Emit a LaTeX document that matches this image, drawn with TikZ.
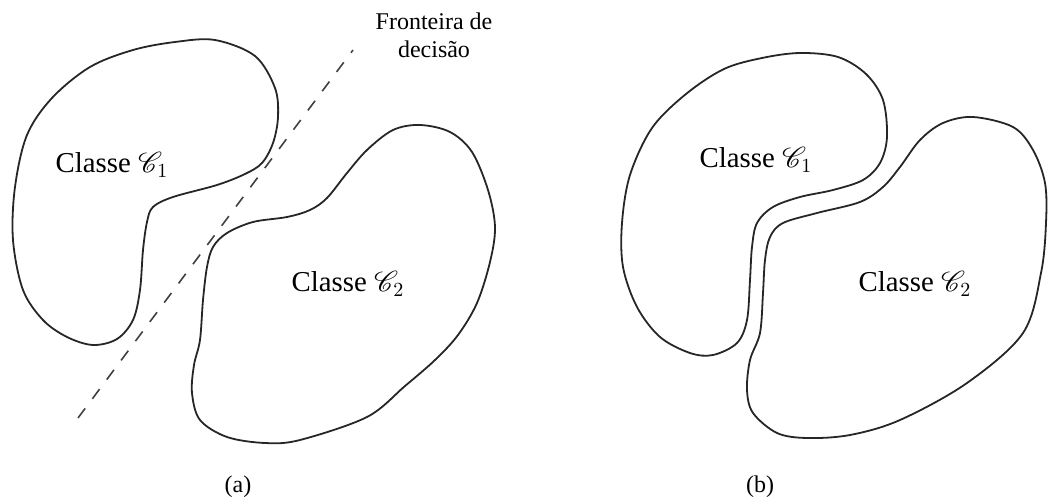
\documentclass[tikz,border=0pt]{standalone}
\usepackage{fontspec}
\setmainfont{Liberation Serif}
\usepackage{mathrsfs}
\usepackage{tikz}
\usetikzlibrary{positioning}

\begin{document}
\begin{tikzpicture}[x=0.5pt,y=-0.5pt,
  blob/.style={line width=0.9pt,color=black!85},
  classlabel/.style={font=\Large,inner sep=0pt},
  caption/.style={font=\large,inner sep=0pt}]
  \useasboundingbox (0,0) rectangle (1049,502);
  % (a)
  \draw[blob] plot[smooth cycle,tension=0.55] coordinates {(175,42) (215,40) (255,56) (275,88) (278,117) (273,143) (262,163) (245,174) (217,185) (173,197) (153,207) (147,222) (143,250) (140,290) (133,320) (117,339) (93,345) (67,337) (43,320) (23,290) (13,240) (15,187) (27,135) (52,98) (90,67) (133,50)};
  \draw[blob] plot[smooth cycle,tension=0.55] coordinates {(420,125) (450,132) (472,152) (488,190) (495,227) (490,262) (477,303) (458,335) (435,360) (405,386) (367,417) (300,440) (265,443) (227,437) (200,420) (192,393) (194,365) (200,340) (203,300) (207,267) (213,247) (227,233) (253,222) (287,217) (310,210) (327,198) (347,173) (367,150) (393,130)};
  \coordinate (lowend) at (78,418);
  \coordinate (highend) at (353,50);
  \draw[line width=0.8pt,color=black!75,dash pattern=on 6pt off 6pt] (lowend) -- (highend);
  \node[font=\large,align=center,inner sep=0pt] (fronteira) at (434,35) {Fronteira de\\decis\~ao};
  \node[classlabel] (classA1) at (112,165) {Classe $\mathscr{C}_1$};
  \node[classlabel] (classA2) at (348,284) {Classe $\mathscr{C}_2$};
  \node[caption] (capa) at (238,487) {(a)};
  % (b)
  \draw[blob] plot[smooth cycle,tension=0.55] coordinates {(762,58) (800,53) (838,57) (866,74) (883,100) (887,137) (880,163) (863,180) (833,190) (800,197) (773,207) (757,223) (752,247) (750,280) (747,320) (737,343) (713,355) (690,353) (660,337) (637,307) (623,267) (622,223) (630,175) (652,128) (686,94) (724,69)};
  \draw[blob] plot[smooth cycle,tension=0.55] coordinates {(973,117) (1013,127) (1033,150) (1045,183) (1046,223) (1041,273) (1023,333) (967,383) (900,420) (850,435) (807,438) (777,433) (753,413) (747,390) (750,360) (760,333) (763,293) (765,260) (770,237) (783,223) (817,213) (860,202) (883,187) (900,167) (920,140) (943,123)};
  \node[classlabel] (classB1) at (756,160) {Classe $\mathscr{C}_1$};
  \node[classlabel] (classB2) at (915,284) {Classe $\mathscr{C}_2$};
  \node[caption] (capb) at (760,487) {(b)};
\end{tikzpicture}
\end{document}
